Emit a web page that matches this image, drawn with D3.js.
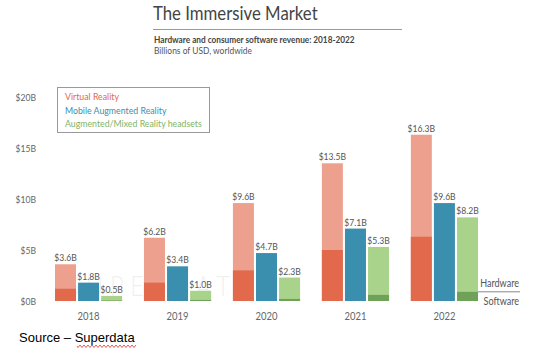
<!DOCTYPE html>
<html>
<head>
<meta charset="utf-8">
<script src="https://cdn.jsdelivr.net/npm/d3@7"></script>
<style>
  body { margin: 0; background: #fff; }
  svg { display: block; font-family: Lato, "Open Sans", sans-serif; }
</style>
</head>
<body>
<div id="chart"></div>
<script>
// values (billions USD)
const years = ["2018", "2019", "2020", "2021", "2022"];
const series = ["Virtual Reality", "Mobile Augmented Reality", "Augmented/Mixed Reality headsets"];
const vrTotal = [3.6, 6.2, 9.6, 13.5, 16.3];
const vrSoftware = [1.2, 1.8, 3.0, 5.0, 6.3];
const marTotal = [1.8, 3.4, 4.7, 7.1, 9.6];
const arTotal = [0.5, 1.0, 2.3, 5.3, 8.2];
const arSoftware = [0.05, 0.1, 0.2, 0.6, 0.9];
const yTicks = [0, 5, 10, 15, 20];

const width = 548, height = 354;
// the source picture has narrow lettering, squeeze text sideways
const SX = 0.86;

const svg = d3.select("#chart")
  .append("svg")
  .attr("width", width)
  .attr("height", height);

// text placed at (x,y) and squeezed horizontally
const label = (parent, x, y, txt) => parent.append("text")
  .attr("transform", `translate(${x},${y}) scale(${SX},1)`)
  .text(txt);

// title block
label(svg, 153, 20, "The Immersive Market")
  .attr("font-size", 19.5)
  .attr("fill", "#444");

svg.append("line")
  .attr("x1", 153).attr("x2", 402)
  .attr("y1", 29.5).attr("y2", 29.5)
  .attr("stroke", "#999");

label(svg, 154, 42.5, "Hardware and consumer software revenue: 2018-2022")
  .attr("font-size", 9.6)
  .attr("font-weight", "bold")
  .attr("fill", "#444");

label(svg, 154, 54, "Billions of USD, worldwide")
  .attr("font-size", 9.8)
  .attr("fill", "#555");

// scales
const x = d3.scaleBand()
  .domain(years)
  .range([55, 478])
  .paddingInner(0.245)
  .paddingOuter(0);

const xs = d3.scaleBand()
  .domain(series)
  .range([0, x.bandwidth()])
  .paddingInner(0.09);

const y = d3.scaleLinear()
  .domain([0, 20])
  .range([301, 97]);

// watermark
label(svg, 67, 296, "SUPERDATA")
  .attr("font-size", 27)
  .attr("font-weight", 300)
  .attr("letter-spacing", 8)
  .attr("fill", "#000")
  .attr("opacity", 0.06);

// y axis
const yAxis = d3.axisLeft(y)
  .tickValues(yTicks)
  .tickSize(0)
  .tickPadding(0)
  .tickFormat(d => "$" + d + "B");

svg.append("g")
  .attr("transform", "translate(36,0)")
  .call(yAxis)
  .call(g => g.select(".domain").remove())
  .selectAll("text")
  .attr("transform", `scale(${SX},1)`)
  .attr("font-family", "Lato, sans-serif")
  .attr("font-size", 10)
  .attr("fill", "#666");

// x axis
svg.append("g")
  .attr("transform", "translate(0,301)")
  .call(d3.axisBottom(x).tickSize(0).tickPadding(11))
  .call(g => g.select(".domain").remove())
  .selectAll("text")
  .attr("transform", `scale(${SX},1)`)
  .attr("font-family", "Lato, sans-serif")
  .attr("font-size", 11)
  .attr("fill", "#666");

const colors = {
  vrHw: "#eda08e", vrSw: "#e2694b",
  mar: "#3a8fae",
  arHw: "#a9d38b", arSw: "#6fa258"
};

const rows = years.map((yr, i) => ({
  year: yr, vr: vrTotal[i], vrSw: vrSoftware[i],
  mar: marTotal[i], ar: arTotal[i], arSw: arSoftware[i]
}));

const groups = svg.append("g")
  .selectAll("g")
  .data(rows)
  .join("g")
  .attr("transform", d => `translate(${x(d.year)},0)`);

const bw = xs.bandwidth();

// virtual reality
groups.append("rect")
  .attr("x", xs(series[0])).attr("width", bw)
  .attr("y", d => y(d.vr)).attr("height", d => y(0) - y(d.vr))
  .attr("fill", colors.vrHw);
groups.append("rect")
  .attr("x", xs(series[0])).attr("width", bw)
  .attr("y", d => y(d.vrSw)).attr("height", d => y(0) - y(d.vrSw))
  .attr("fill", colors.vrSw);

// mobile AR
groups.append("rect")
  .attr("x", xs(series[1])).attr("width", bw)
  .attr("y", d => y(d.mar)).attr("height", d => y(0) - y(d.mar))
  .attr("fill", colors.mar);

// AR/MR headsets
groups.append("rect")
  .attr("x", xs(series[2])).attr("width", bw)
  .attr("y", d => y(d.ar)).attr("height", d => y(0) - y(d.ar))
  .attr("fill", colors.arHw);
groups.append("rect")
  .attr("x", xs(series[2])).attr("width", bw)
  .attr("y", d => y(d.arSw)).attr("height", d => y(0) - y(d.arSw))
  .attr("fill", colors.arSw);

// value labels
const labelKeys = [["vr", series[0]], ["mar", series[1]], ["ar", series[2]]];
labelKeys.forEach(([k, s]) => {
  groups.append("text")
    .attr("transform", d => `translate(${xs(s) + bw / 2},${y(d[k]) - 3}) scale(${SX},1)`)
    .attr("text-anchor", "middle")
    .attr("font-size", 10)
    .attr("fill", "#555")
    .text(d => "$" + d[k].toFixed(1) + "B");
});

// hardware / software marker
const last = x(years[4]) + xs(series[2]) + bw;
const split = y(arSoftware[4]);
svg.append("line")
  .attr("x1", last).attr("x2", 520)
  .attr("y1", split).attr("y2", split)
  .attr("stroke", "#888");
label(svg, 519, split - 5, "Hardware")
  .attr("text-anchor", "end")
  .attr("font-size", 10.5)
  .attr("fill", "#555");
label(svg, 519, split + 13, "Software")
  .attr("text-anchor", "end")
  .attr("font-size", 10.5)
  .attr("fill", "#555");

// legend
svg.append("rect")
  .attr("x", 57.5).attr("y", 87.5)
  .attr("width", 152).attr("height", 45)
  .attr("fill", "#fff")
  .attr("stroke", "#999");
const legendColors = ["#e2694b", "#3a8fae", "#7fb46a"];
svg.append("g")
  .selectAll("text")
  .data(series)
  .join("text")
  .attr("transform", (d, i) => `translate(65,${100 + i * 13.5}) scale(${SX},1)`)
  .attr("font-size", 10.2)
  .attr("fill", (d, i) => legendColors[i])
  .text(d => d);

// source line
svg.append("text")
  .attr("x", 19).attr("y", 342)
  .attr("font-family", "'Liberation Sans', Arial, sans-serif")
  .attr("font-size", 13)
  .attr("fill", "#000")
  .text("Source \u2013 Superdata");

// spell-check squiggle
const sq = d3.path();
sq.moveTo(77, 346);
for (let px = 77; px < 137; px += 2) {
  sq.lineTo(px + 1, (px - 77) % 4 === 0 ? 347.5 : 345);
}
svg.append("path")
  .attr("d", sq.toString())
  .attr("fill", "none")
  .attr("stroke", "#d33")
  .attr("stroke-width", 0.8);
</script>
</body>
</html>
